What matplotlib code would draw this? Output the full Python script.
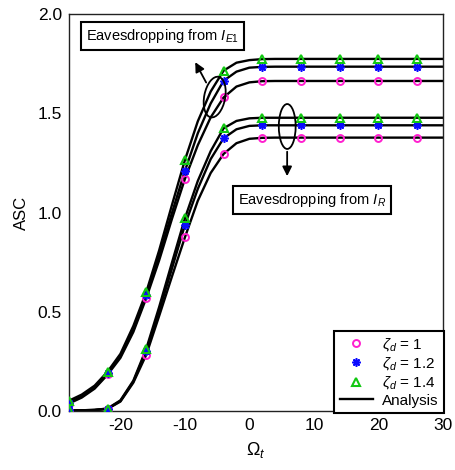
import matplotlib
matplotlib.use('Agg')
import matplotlib.pyplot as plt
from matplotlib.patches import Ellipse

plt.rcParams['font.family'] = ['Liberation Sans', 'DejaVu Sans']
plt.rcParams['mathtext.fontset'] = 'custom'
plt.rcParams['mathtext.rm'] = 'Liberation Sans'
plt.rcParams['mathtext.it'] = 'Liberation Sans:italic'
plt.rcParams['axes.unicode_minus'] = False

# simulation points
omega_sim = [-28, -22, -16, -10, -4, 2, 8, 14, 20, 26]

e1_sim_10 = [0.040, 0.190, 0.570, 1.170, 1.580, 1.663, 1.663, 1.663, 1.663, 1.663]
e1_sim_12 = [0.045, 0.195, 0.585, 1.210, 1.664, 1.735, 1.735, 1.735, 1.735, 1.735]
e1_sim_14 = [0.054, 0.200, 0.600, 1.265, 1.715, 1.774, 1.774, 1.774, 1.774, 1.774]

r_sim_10 = [0.004, 0.013, 0.285, 0.876, 1.296, 1.378, 1.378, 1.378, 1.378, 1.378]
r_sim_12 = [0.005, 0.014, 0.305, 0.938, 1.375, 1.440, 1.440, 1.440, 1.440, 1.440]
r_sim_14 = [0.005, 0.015, 0.315, 0.972, 1.425, 1.478, 1.478, 1.478, 1.478, 1.478]

# analysis curves
omega_ana = [-28, -26, -24, -22, -20, -18, -16, -14, -12, -10, -8, -6, -4,
             -2, 0, 2, 4, 6, 10, 15, 20, 25, 30]

e1_ana_10 = [0.040, 0.070, 0.115, 0.185, 0.270, 0.400, 0.570, 0.760, 0.970, 1.170,
             1.340, 1.480, 1.580, 1.635, 1.656, 1.662, 1.663, 1.663, 1.663, 1.663,
             1.663, 1.663, 1.663]
e1_ana_12 = [0.045, 0.075, 0.120, 0.190, 0.280, 0.410, 0.585, 0.785, 1.000, 1.210,
             1.400, 1.550, 1.664, 1.710, 1.730, 1.734, 1.735, 1.735, 1.735, 1.735,
             1.735, 1.735, 1.735]
e1_ana_14 = [0.054, 0.085, 0.130, 0.200, 0.290, 0.430, 0.600, 0.810, 1.040, 1.265,
             1.460, 1.610, 1.715, 1.755, 1.768, 1.773, 1.774, 1.774, 1.774, 1.774,
             1.774, 1.774, 1.774]

r_ana_10 = [0.004, 0.005, 0.007, 0.013, 0.050, 0.145, 0.285, 0.480, 0.680, 0.876,
            1.060, 1.200, 1.296, 1.350, 1.372, 1.377, 1.378, 1.378, 1.378, 1.378,
            1.378, 1.378, 1.378]
r_ana_12 = [0.005, 0.006, 0.008, 0.014, 0.053, 0.150, 0.305, 0.505, 0.720, 0.938,
            1.120, 1.270, 1.375, 1.420, 1.437, 1.440, 1.440, 1.440, 1.440, 1.440,
            1.440, 1.440, 1.440]
r_ana_14 = [0.005, 0.006, 0.008, 0.015, 0.056, 0.155, 0.315, 0.525, 0.750, 0.972,
            1.160, 1.310, 1.425, 1.462, 1.475, 1.478, 1.478, 1.478, 1.478, 1.478,
            1.478, 1.478, 1.478]

legend_labels = [r'$\zeta_d$ = 1', r'$\zeta_d$ = 1.2', r'$\zeta_d$ = 1.4', 'Analysis']

fig = plt.figure(figsize=(4.56, 4.70), dpi=100)
ax = fig.add_axes([0.151, 0.1245, 0.820, 0.8457])

# analysis lines
for curve in [e1_ana_10, e1_ana_12, e1_ana_14, r_ana_10, r_ana_12, r_ana_14]:
    ax.plot(omega_ana, curve, color='black', lw=1.7, zorder=2)

pink = '#ff1fcf'
blue = '#0a0aff'
green = '#12c812'
ms = 5
for sim in [e1_sim_10, r_sim_10]:
    h1, = ax.plot(omega_sim, sim, 'o', mfc='none', mec=pink, mew=1.4, ms=ms, zorder=3)
for sim in [e1_sim_12, r_sim_12]:
    h2, = ax.plot(omega_sim, sim, ls='none', marker=(8, 2, 0), mec=blue, color=blue,
                  mew=1.2, ms=ms + 1, zorder=3)
for sim in [e1_sim_14, r_sim_14]:
    h3, = ax.plot(omega_sim, sim, '^', mfc='none', mec=green, mew=1.5, ms=ms + 1, zorder=3)
h4, = ax.plot([], [], color='black', lw=1.7)

ax.set_xlim(-28, 30)
ax.set_ylim(0, 2.0)
ax.set_xticks([-20, -10, 0, 10, 20, 30])
ax.set_yticks([0.0, 0.5, 1.0, 1.5, 2.0])
ax.set_yticklabels(['0.0', '0.5', '1.0', '1.5', '2.0'])
ax.tick_params(length=0, labelsize=12.5, pad=5)
for sp in ax.spines.values():
    sp.set_linewidth(1.0)
    sp.set_color('#222222')
ax.set_xlabel(r'$\Omega_t$', fontsize=13, labelpad=5)
ax.set_ylabel('ASC', fontsize=12, labelpad=6)

leg = ax.legend([h1, h2, h3, h4], legend_labels, loc='lower right', fontsize=11,
                fancybox=False, edgecolor='black', framealpha=1, borderaxespad=-0.1,
                handlelength=2.2, handletextpad=0.6, labelspacing=0.15,
                borderpad=0.35)
leg.get_frame().set_linewidth(1.5)
leg.set_zorder(5)

# annotations
box = dict(boxstyle='square,pad=0.35', fc='white', ec='black', lw=1.5)
ax.text(0.251, 0.944, r'Eavesdropping from $I_{E1}$', transform=ax.transAxes,
        ha='center', va='center', fontsize=10.5, bbox=box, zorder=6)
ax.text(0.650, 0.533, r'Eavesdropping from $I_R$', transform=ax.transAxes,
        ha='center', va='center', fontsize=10.5, bbox=box, zorder=6)

ax.add_patch(Ellipse((0.390, 0.791), 0.056, 0.104, angle=-12, transform=ax.transAxes,
                     fill=False, ec='black', lw=1.3, zorder=4))
ax.add_patch(Ellipse((0.584, 0.717), 0.045, 0.113, angle=0, transform=ax.transAxes,
                     fill=False, ec='black', lw=1.3, zorder=4))

arrow = dict(arrowstyle='-|>', color='black', lw=1.3, mutation_scale=14)
ax.annotate('', xy=(-8.6, 1.77), xytext=(-6.5, 1.643), arrowprops=arrow, zorder=4)
ax.annotate('', xy=(5.86, 1.17), xytext=(5.86, 1.321), arrowprops=arrow, zorder=4)

fig.savefig('out.png', dpi=100)
